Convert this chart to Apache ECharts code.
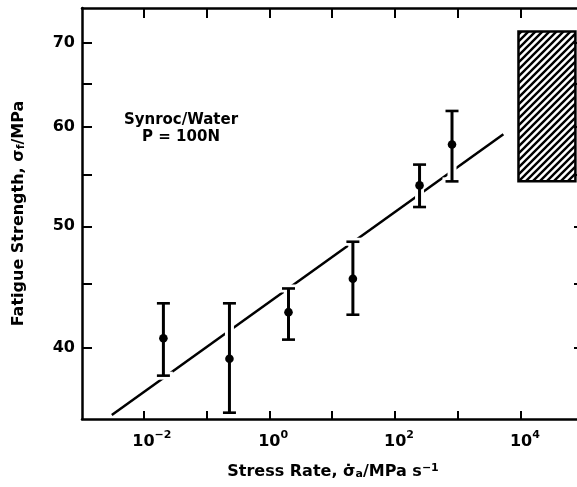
<!DOCTYPE html>
<html>
<head>
<meta charset="utf-8">
<script src="https://cdn.jsdelivr.net/npm/echarts@6/dist/echarts.min.js"></script>
<style>html,body{margin:0;padding:0;background:#fff;}#c{width:577px;height:487px;}</style>
</head>
<body>
<div id="c"></div>
<script>
// ---- data ----
const stressRate   = [0.0208, 0.233, 2.02, 21.3, 244, 800];      // MPa s^-1
const strength     = [40.7, 39.2, 42.7, 45.4, 53.9, 58.1];       // MPa
const strengthHigh = [43.4, 43.4, 44.6, 48.6, 56.0, 61.8];
const strengthLow  = [38.0, 35.5, 40.6, 42.5, 51.8, 54.3];
const fitStressRate = [0.00315, 5240];
const fitStrength   = [35.35, 59.2];
const boxStressRate = [9100, 73000];
const boxStrength   = [54.3, 71.5];
const xTickValues  = [0.01, 0.1, 1, 10, 100, 1000, 10000, 100000];
const xLabelValues = [0.01, 1, 100, 10000];
const yTickValues  = [40, 45, 50, 55, 60, 65, 70];
const yLabelValues = [40, 50, 60, 70];
const xRange = [0.001059, 100000];
const yRange = [35.09, 74.67];

const FONT = 'DejaVu Sans';

function hatchCanvas() {
  const s = 7;
  const c = document.createElement('canvas');
  c.width = s; c.height = s;
  const g = c.getContext('2d');
  g.strokeStyle = '#000'; g.lineWidth = 2.4;
  g.beginPath();
  g.moveTo(-1, s + 1); g.lineTo(s + 1, -1);
  g.moveTo(-2, 2); g.lineTo(2, -2);
  g.moveTo(s - 2, s + 2); g.lineTo(s + 2, s - 2);
  g.stroke();
  return c;
}

const supMap = {'-': '\u2212'};
function expText(v) {
  const e = Math.round(Math.log10(v));
  return String(e).split('').map(ch => supMap[ch] || ch).join('');
}

const axisLineStyle = {color: '#000', width: 2.5};
const tickStyle = {color: '#000', width: 2};

const chart = echarts.init(document.getElementById('c'), null, {renderer: 'canvas'});
chart.setOption({
  backgroundColor: '#fff',
  animation: false,
  grid: {left: 82, top: 8, width: 502, height: 411, containLabel: false, outerBoundsMode: 'none'},
  xAxis: [{
    type: 'log', logBase: 10, min: xRange[0], max: xRange[1], position: 'bottom',
    axisLine: {lineStyle: axisLineStyle},
    axisTick: {inside: true, length: 8, lineStyle: tickStyle, customValues: xTickValues},
    minorTick: {show: false}, splitLine: {show: false},
    axisLabel: {
      customValues: xLabelValues, margin: 11, color: '#000',
      formatter: v => { const e = expText(v); return '{p|' + e + '}{b|10}{s|' + e + '}'; },
      rich: {
        b: {fontFamily: FONT, fontWeight: 'bold', fontSize: 16, color: '#000', lineHeight: 20, verticalAlign: 'bottom'},
        s: {fontFamily: FONT, fontWeight: 'bold', fontSize: 11, color: '#000', lineHeight: 20, verticalAlign: 'top'},
        p: {fontFamily: FONT, fontWeight: 'bold', fontSize: 11, color: 'transparent', lineHeight: 20, verticalAlign: 'top'}
      }
    },
    name: 'Stress Rate, \u03C3\u0307{sub|a}/MPa s{sup|\u22121}',
    nameLocation: 'middle', nameGap: 44,
    nameTextStyle: {
      fontFamily: FONT, fontWeight: 'bold', fontSize: 16, color: '#000',
      rich: {
        sub: {fontFamily: FONT, fontWeight: 'bold', fontSize: 11, color: '#000', verticalAlign: 'bottom', padding: [4, 0, 0, 0]},
        sup: {fontFamily: FONT, fontWeight: 'bold', fontSize: 11, color: '#000', verticalAlign: 'top', padding: [0, 0, 6, 0]}
      }
    }
  }, {
    type: 'log', logBase: 10, min: xRange[0], max: xRange[1], position: 'top',
    axisLine: {lineStyle: axisLineStyle},
    axisTick: {inside: true, length: 10, lineStyle: tickStyle, customValues: xTickValues},
    minorTick: {show: false}, splitLine: {show: false}, axisLabel: {show: false}
  }],
  yAxis: [{
    type: 'log', logBase: 10, min: yRange[0], max: yRange[1], position: 'left',
    axisLine: {lineStyle: axisLineStyle},
    axisTick: {inside: true, length: 10, lineStyle: tickStyle, customValues: yTickValues},
    minorTick: {show: false}, splitLine: {show: false},
    axisLabel: {
      customValues: yLabelValues, margin: 7, color: '#000',
      fontFamily: FONT, fontWeight: 'bold', fontSize: 16,
      formatter: v => String(Math.round(v))
    },
    name: 'Fatigue Strength, \u03C3{sub|f}/MPa',
    nameLocation: 'middle', nameGap: 55, nameRotate: 90,
    nameTextStyle: {
      fontFamily: FONT, fontWeight: 'bold', fontSize: 16, color: '#000',
      rich: {
        sub: {fontFamily: FONT, fontWeight: 'bold', fontSize: 11, color: '#000', verticalAlign: 'bottom', padding: [4, 0, 0, 0]}
      }
    }
  }, {
    type: 'log', logBase: 10, min: yRange[0], max: yRange[1], position: 'right',
    axisLine: {lineStyle: axisLineStyle},
    axisTick: {inside: true, length: 10, lineStyle: tickStyle, customValues: yTickValues},
    minorTick: {show: false}, splitLine: {show: false}, axisLabel: {show: false}
  }],
  graphic: [{
    type: 'text', x: 181, y: 112, z: 10,
    style: {
      text: 'Synroc/Water\nP = 100N', fill: '#000', align: 'center', verticalAlign: 'top',
      font: 'bold 15px "DejaVu Sans"', lineHeight: 17
    }
  }],
  series: [{
    type: 'line', z: 2, xAxisIndex: 0, yAxisIndex: 0,
    data: fitStressRate.map((x, i) => [x, fitStrength[i]]),
    showSymbol: false, symbol: 'none',
    lineStyle: {color: '#000', width: 2.5},
    silent: true,
    markArea: {
      silent: true,
      itemStyle: {color: {image: hatchCanvas(), repeat: 'repeat'}, borderColor: '#000', borderWidth: 2.5},
      label: {show: false},
      data: [[{coord: [boxStressRate[0], boxStrength[1]]}, {coord: [boxStressRate[1], boxStrength[0]]}]]
    }
  }, {
    type: 'custom', z: 3, xAxisIndex: 0, yAxisIndex: 0, silent: true,
    data: stressRate.map((x, i) => [x, strength[i], strengthLow[i], strengthHigh[i]]),
    renderItem: (params, api) => {
      const c = api.coord([api.value(0), api.value(1)]);
      const lo = api.coord([api.value(0), api.value(2)]);
      const hi = api.coord([api.value(0), api.value(3)]);
      const x = c[0], cap = 6.5;
      const white = {stroke: '#fff', lineWidth: 9, fill: null};
      const black = {stroke: '#000', lineWidth: 3, fill: null};
      const capB = {stroke: '#000', lineWidth: 2.6, fill: null};
      return {
        type: 'group',
        children: [
          {type: 'line', shape: {x1: x, y1: hi[1], x2: x, y2: lo[1]}, style: white},
          {type: 'line', shape: {x1: x - cap - 3, y1: hi[1], x2: x + cap + 3, y2: hi[1]}, style: {stroke: '#fff', lineWidth: 8}},
          {type: 'line', shape: {x1: x - cap - 3, y1: lo[1], x2: x + cap + 3, y2: lo[1]}, style: {stroke: '#fff', lineWidth: 8}},
          {type: 'line', shape: {x1: x, y1: hi[1], x2: x, y2: lo[1]}, style: black},
          {type: 'line', shape: {x1: x - cap, y1: hi[1], x2: x + cap, y2: hi[1]}, style: capB},
          {type: 'line', shape: {x1: x - cap, y1: lo[1], x2: x + cap, y2: lo[1]}, style: capB},
          {type: 'circle', shape: {cx: x, cy: c[1], r: 4.3}, style: {fill: '#000'}}
        ]
      };
    }
  }]
});
</script>
</body>
</html>
